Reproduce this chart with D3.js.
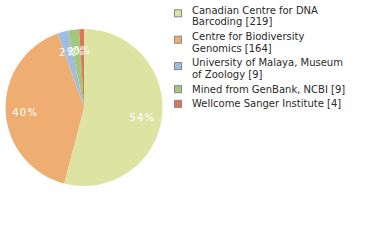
<!DOCTYPE html>
<html><head><meta charset="utf-8">
<script src="https://cdn.jsdelivr.net/npm/d3@7"></script>
<style>body{margin:0;background:#fff}svg{display:block}</style>
</head><body>
<script>
const categories = [
  ["Canadian Centre for DNA", "Barcoding [219]"],
  ["Centre for Biodiversity", "Genomics [164]"],
  ["University of Malaya, Museum", "of Zoology [9]"],
  ["Mined from GenBank, NCBI [9]"],
  ["Wellcome Sanger Institute [4]"]
];
const values = [219, 164, 9, 9, 4];
const colors = ["#dde3a0", "#eeae72", "#a0bde0", "#a3c87a", "#e07458"];

const W = 380, H = 240;
const svg = d3.select("body").append("svg").attr("width", W).attr("height", H);
const cx = 84, cy = 107.5, r = 78.5;
const total = d3.sum(values);
const pie = d3.pie().sort(null).value(d => d)(values);
const arc = d3.arc().innerRadius(0).outerRadius(r);
const labelArc = d3.arc().innerRadius(r * 0.75).outerRadius(r * 0.75);
const g = svg.append("g").attr("transform", `translate(${cx},${cy})`);
g.selectAll("path").data(pie).join("path").attr("d", arc).attr("fill", (d, i) => colors[i]);
g.selectAll("text").data(pie).join("text")
  .attr("transform", d => `translate(${labelArc.centroid(d)})`)
  .attr("text-anchor", "middle").attr("dy", "0.55em")
  .attr("font-family", "DejaVu Sans").attr("font-size", 10).attr("letter-spacing", 1.2)
  .attr("fill", "#fff")
  .text(d => Math.floor(d.value / total * 100) + "%");

const lg = svg.append("g").attr("font-family", "DejaVu Sans").attr("font-size", 10).attr("fill", "#2a2a2a");
const lineH = 11.8, gap = 2.8;
let y = 10;
categories.forEach((lines, i) => {
  const item = lg.append("g");
  lines.forEach((t, j) => {
    item.append("text").attr("x", 192).attr("y", y + j * lineH).attr("dy", "0.35em").text(t);
  });
  const sy = y + (lines.length > 1 ? 3.3 : 0);
  item.append("rect").attr("x", 174.5).attr("y", sy - 3.5).attr("width", 7).attr("height", 7)
    .attr("fill", colors[i]).attr("stroke", "#888").attr("stroke-width", 1);
  y += lines.length * lineH + gap;
});
</script>
</body></html>
